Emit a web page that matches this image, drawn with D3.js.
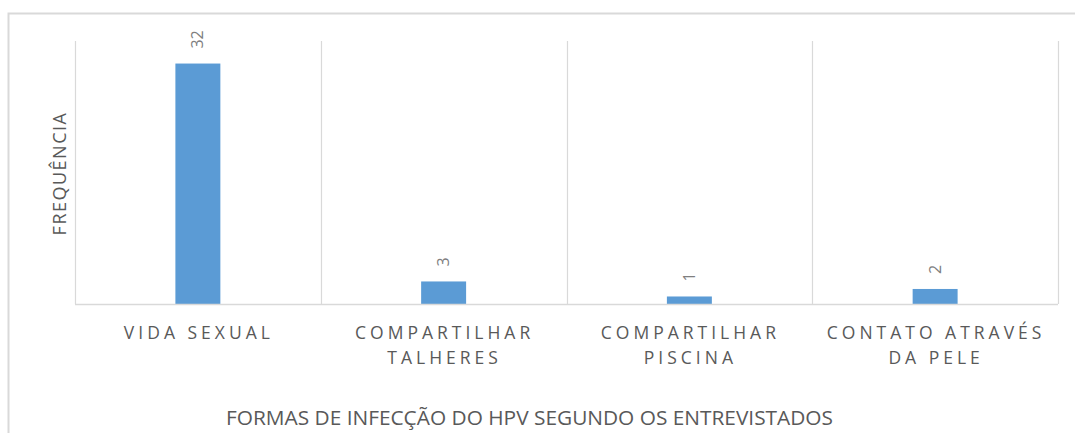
<!DOCTYPE html>
<html>
<head>
<meta charset="utf-8">
<script src="https://cdn.jsdelivr.net/npm/d3@7"></script>
<style>
  body { margin: 0; background: #fff; }
  text { font-family: "Open Sans", sans-serif; }
</style>
</head>
<body>
<div id="chart"></div>
<script>
// dados
var categories = ["VIDA SEXUAL", "COMPARTILHAR TALHERES", "COMPARTILHAR PISCINA", "CONTATO ATRAVÉS DA PELE"];
var values = [32, 3, 1, 2];
var tickLines = [["VIDA SEXUAL"], ["COMPARTILHAR", "TALHERES"], ["COMPARTILHAR", "PISCINA"], ["CONTATO ATRAVÉS", "DA PELE"]];
var yTitle = "FREQUÊNCIA";
var xTitle = "FORMAS DE INFECÇÃO DO HPV SEGUNDO OS ENTREVISTADOS";

var width = 1075, height = 433;
var plotLeft = 75, plotRight = 1058, plotTop = 41, plotBottom = 304;

var svg = d3.select("#chart")
  .append("svg")
  .attr("width", width)
  .attr("height", height);

// moldura do gráfico
svg.append("rect")
  .attr("x", 8.5).attr("y", 13.5)
  .attr("width", 1100).attr("height", 500)
  .attr("fill", "none")
  .attr("stroke", "#d9d9d9")
  .attr("stroke-width", 2);

const xGrid = d3.scaleBand()
  .domain(categories)
  .range([plotLeft, plotRight]);

const x = d3.scaleBand()
  .domain(categories)
  .range([plotLeft, plotRight])
  .paddingInner(0.817)
  .paddingOuter(0.4085);

const y = d3.scaleLinear()
  .domain([0, 35])
  .range([plotBottom, plotTop]);

// linhas verticais entre categorias
var bounds = categories.map(c => xGrid(c)).concat([plotRight]);
svg.append("g")
  .selectAll("line")
  .data(bounds)
  .join("line")
  .attr("x1", d => Math.round(d) + 0.5)
  .attr("x2", d => Math.round(d) + 0.5)
  .attr("y1", plotTop)
  .attr("y2", plotBottom)
  .attr("stroke", "#d9d9d9")
  .attr("stroke-width", 1.2);

// barras
svg.append("g")
  .selectAll("rect")
  .data(values)
  .join("rect")
  .attr("x", (d, i) => x(categories[i]))
  .attr("y", d => y(d))
  .attr("width", x.bandwidth())
  .attr("height", d => y(0) - y(d))
  .attr("fill", "#5b9bd5");

// eixo base
svg.append("line")
  .attr("x1", plotLeft).attr("x2", plotRight)
  .attr("y1", plotBottom + 0.5).attr("y2", plotBottom + 0.5)
  .attr("stroke", "#d9d9d9")
  .attr("stroke-width", 1.5);

// rótulos de valores (rotacionados)
svg.append("g")
  .selectAll("text")
  .data(values)
  .join("text")
  .attr("transform", (d, i) => `translate(${x(categories[i]) + x.bandwidth() / 2}, ${y(d) - 15}) rotate(-90)`)
  .attr("dy", "0.35em")
  .attr("text-anchor", "start")
  .attr("font-size", 16)
  .attr("fill", "#7f7f7f")
  .text(d => d);

// rótulos das categorias
var cats = svg.append("g")
  .selectAll("text")
  .data(tickLines)
  .join("text")
  .attr("text-anchor", "middle")
  .attr("font-size", 17.5)
  .attr("letter-spacing", 4)
  .attr("fill", "#595959");
cats.each(function (lines, i) {
  d3.select(this).selectAll("tspan")
    .data(lines)
    .join("tspan")
    .attr("x", xGrid(categories[i]) + xGrid.bandwidth() / 2 + 1)
    .attr("y", (d, j) => 338.5 + j * 25.5)
    .text(d => d);
});

// título do eixo y
svg.append("text")
  .attr("transform", "translate(66, 173.5) rotate(-90)")
  .attr("text-anchor", "middle")
  .attr("font-size", 18)
  .attr("letter-spacing", 1.5)
  .attr("fill", "#595959")
  .text(yTitle);

// título do eixo x
svg.append("text")
  .attr("x", 226)
  .attr("y", 425)
  .attr("font-size", 20)
  .attr("textLength", 607)
  .attr("lengthAdjust", "spacingAndGlyphs")
  .attr("fill", "#595959")
  .text(xTitle);
</script>
</body>
</html>
